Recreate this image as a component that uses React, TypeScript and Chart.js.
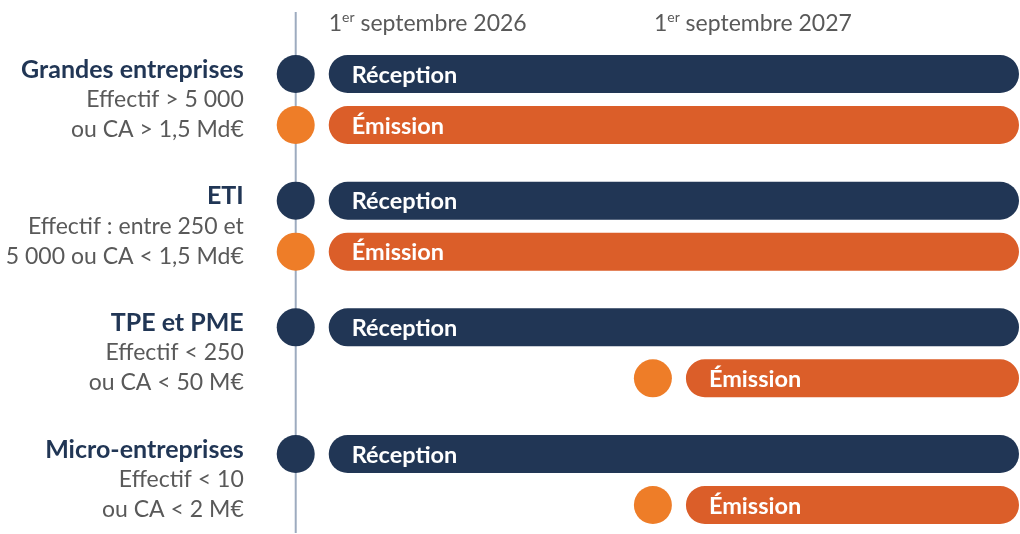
import React, { useEffect, useRef } from "react";
import { Chart, registerables } from "chart.js";

Chart.register(...registerables);

// ---- data ----
const companies = ["Grandes entreprises", "ETI", "TPE et PME", "Micro-entreprises"];
const criteriaLine1 = ["Effectif > 5 000", "Effectif : entre 250 et", "Effectif < 250", "Effectif < 10"];
const criteriaLine2 = ["ou CA > 1,5 Md€", "5 000 ou CA < 1,5 Md€", "ou CA < 50 M€", "ou CA < 2 M€"];
const receptionStart = [2026, 2026, 2026, 2026];
const emissionStart = [2026, 2026, 2027, 2027];
const timelineEnd = 2028.025; // open-ended obligation
const milestoneDates = [2026, 2027];
const milestoneLabels = ["1er septembre 2026", "1er septembre 2027"];
const seriesNames = ["Réception", "Émission"];

// ---- styles ----
const NAVY = "#213655";
const ORANGE_BAR = "#db5e29";
const ORANGE_DOT = "#ee7d28";
const LINE = "#9dabbf";
const GREY = "#595959";
const FONT = "Lato, 'Open Sans', sans-serif";
const GAP_YEARS = 33 / 357; // gap between milestone dot and bar start
const DOT_R = 19;
const headerOffsets = [33, 1];

const timelinePlugin = {
  id: "timeline",
  beforeDatasetsDraw(chart: any) {
    const ctx = chart.ctx;
    const x = chart.scales.x.getPixelForValue(milestoneDates[0]);
    ctx.save();
    ctx.strokeStyle = LINE;
    ctx.lineWidth = 2;
    ctx.beginPath();
    ctx.moveTo(x, 12);
    ctx.lineTo(x, 533);
    ctx.stroke();
    ctx.restore();
  },
  afterDatasetsDraw(chart: any) {
    const ctx = chart.ctx;
    const xs = chart.scales.x;
    ctx.save();
    chart.data.datasets.forEach((ds: any, i: number) => {
      const meta = chart.getDatasetMeta(i);
      meta.data.forEach((el: any, j: number) => {
        const cx = xs.getPixelForValue(ds.dates[j]);
        ctx.fillStyle = ds.dotColor;
        ctx.beginPath();
        ctx.arc(cx, el.y, DOT_R, 0, Math.PI * 2);
        ctx.fill();
        const left = Math.min(el.x, el.base);
        ctx.fillStyle = "#ffffff";
        ctx.font = `bold 23.5px ${FONT}`;
        ctx.textAlign = "left";
        ctx.textBaseline = "middle";
        ctx.fillText(ds.label, left + 23, el.y + 1);
      });
    });
    ctx.restore();
  },
  afterDraw(chart: any) {
    const ctx = chart.ctx;
    const xs = chart.scales.x;
    const ys = chart.scales.y;
    const lineX = xs.getPixelForValue(milestoneDates[0]);
    ctx.save();
    // left labels
    ctx.textAlign = "right";
    ctx.textBaseline = "middle";
    companies.forEach((name, i) => {
      const cy = ys.getPixelForValue(i);
      const rx = lineX - 52;
      ctx.fillStyle = NAVY;
      ctx.font = `bold 25px ${FONT}`;
      ctx.fillText(name, rx, cy - 30);
      ctx.fillStyle = GREY;
      ctx.font = `23px ${FONT}`;
      ctx.fillText(criteriaLine1[i], rx, cy);
      ctx.fillText(criteriaLine2[i], rx, cy + 30);
    });
    // header milestones
    ctx.textAlign = "left";
    ctx.textBaseline = "alphabetic";
    ctx.fillStyle = GREY;
    milestoneLabels.forEach((lab, i) => {
      const m = lab.match(/^(\d+)(er)(.*)$/);
      let x = xs.getPixelForValue(milestoneDates[i]) + headerOffsets[i];
      const base = 31;
      if (m) {
        ctx.font = `23px ${FONT}`;
        ctx.fillText(m[1], x, base);
        x += ctx.measureText(m[1]).width;
        ctx.font = `14px ${FONT}`;
        ctx.fillText(m[2], x, base - 9);
        x += ctx.measureText(m[2]).width;
        ctx.font = `23px ${FONT}`;
        ctx.fillText(m[3], x, base);
      } else {
        ctx.font = `23px ${FONT}`;
        ctx.fillText(lab, x, base);
      }
    });
    ctx.restore();
  },
};

export default function App() {
  const ref = useRef<HTMLCanvasElement>(null);
  useEffect(() => {
    if (!ref.current) return;
    const starts = [receptionStart, emissionStart];
    const barColors = [NAVY, ORANGE_BAR];
    const dotColors = [NAVY, ORANGE_DOT];
    const chart = new Chart(ref.current, {
      type: "bar",
      data: {
        labels: companies,
        datasets: seriesNames.map((name, i) => ({
          label: name,
          data: starts[i].map((s) => [s + GAP_YEARS, timelineEnd]),
          dates: starts[i],
          dotColor: dotColors[i],
          backgroundColor: barColors[i],
          borderRadius: 19,
          borderSkipped: false,
          categoryPercentage: 0.805,
          barPercentage: 0.745,
          clip: false,
        })) as any,
      },
      options: {
        indexAxis: "y",
        animation: false,
        responsive: false,
        devicePixelRatio: 1,
        layout: { padding: { left: 260, right: 1, top: 99.5, bottom: 54.5 } },
        plugins: { legend: { display: false }, tooltip: { enabled: false } },
        scales: {
          x: { type: "linear", min: 2025.9, max: timelineEnd, display: false },
          y: { type: "category", offset: false, display: false, grid: { display: false } },
        },
      },
      plugins: [timelinePlugin],
    });
    return () => chart.destroy();
  }, []);
  return (
    <div style={{ position: "absolute", left: 0, top: 0, width: 1020, height: 534, background: "#fff" }}>
      <canvas ref={ref} width={1020} height={534} style={{ display: "block" }} />
    </div>
  );
}
